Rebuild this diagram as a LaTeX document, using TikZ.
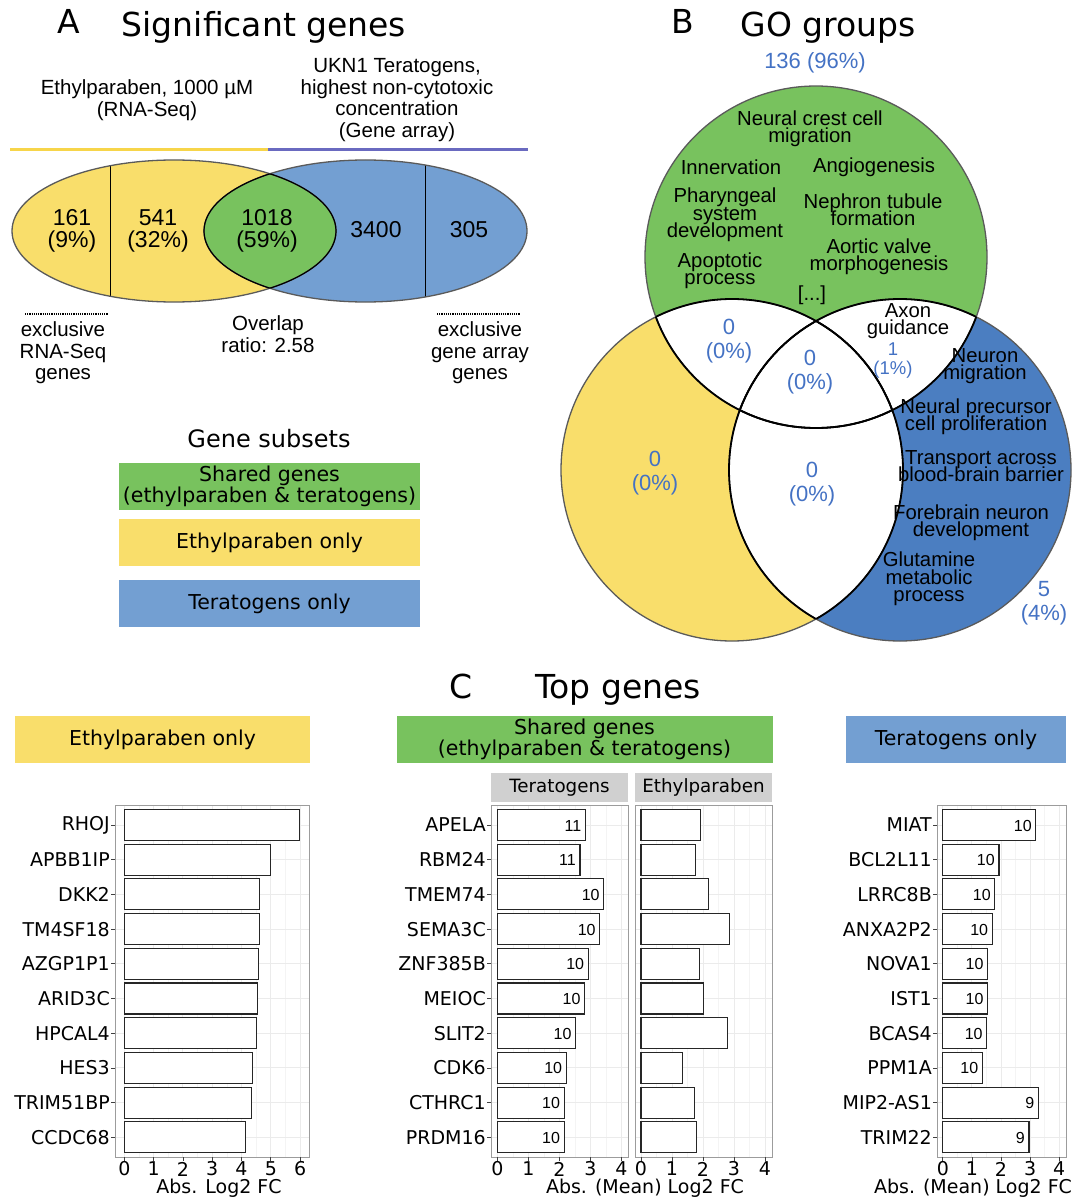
\documentclass[tikz,border=0pt]{standalone}
\usepackage{fontspec}
\setmainfont{Liberation Sans}
\newfontfamily\dvs{DejaVu Sans}
\setlength{\lineskiplimit}{-100pt}
\definecolor{cgreen}{HTML}{78C25E}
\definecolor{cyellow}{HTML}{F9DE6B}
\definecolor{cblue}{HTML}{739FD2}
\definecolor{cdblue}{HTML}{4B7EC1}
\definecolor{cnum}{HTML}{4472C4}
\definecolor{cyline}{HTML}{F7D54A}
\definecolor{cpline}{HTML}{6A6AC0}
\definecolor{cstrip}{HTML}{D0D0D0}
\definecolor{cgrid}{HTML}{EBEBEB}
\definecolor{cgridm}{HTML}{F4F4F4}
\definecolor{cframe}{HTML}{9C9C9C}
\definecolor{coutl}{HTML}{5A5A5A}
\tikzset{
 ttl/.style={font=\dvs\fontsize{33}{36}\selectfont, inner sep=0pt},
 lab/.style={font=\fontsize{20.5}{21.5}\selectfont, align=center, inner sep=0pt},
 num/.style={font=\fontsize{23}{21.5}\selectfont, align=center, inner sep=0pt},
 golab/.style={font=\fontsize{20.3}{17.3}\selectfont, align=center, inner sep=0pt},
 gonum/.style={font=\fontsize{22}{24}\selectfont, align=center, inner sep=0pt, text=cnum},
 gonums/.style={font=\fontsize{18.5}{19}\selectfont, align=center, inner sep=0pt, text=cnum},
 subttl/.style={font=\dvs\fontsize{24}{26}\selectfont, inner sep=0pt},
 subbox/.style={font=\dvs\fontsize{20.5}{21}\selectfont, align=center, inner sep=0pt, minimum width=301pt, minimum height=47pt},
 hdrbox/.style={font=\dvs\fontsize{20.5}{21}\selectfont, align=center, inner sep=0pt, minimum height=47pt},
 stripbox/.style={fill=cstrip, font=\dvs\fontsize{18.3}{20}\selectfont, inner sep=0pt, minimum height=29pt, minimum width=137pt},
 gene/.style={font=\dvs\fontsize{19}{20}\selectfont, anchor=east, inner sep=0pt},
 tick/.style={font=\dvs\fontsize{19}{20}\selectfont, inner sep=0pt},
 axt/.style={font=\dvs\fontsize{19}{20}\selectfont, inner sep=0pt},
 bar/.style={draw=black!85, fill=white, line width=1.1pt},
 barlab/.style={font=\fontsize{16}{16}\selectfont, anchor=east, inner sep=0pt},
 gridmaj/.style={draw=cgrid, line width=0.9pt},
 gridmin/.style={draw=cgridm, line width=0.5pt},
 tickl/.style={draw=black!75, line width=0.8pt},
 outl/.style={draw=coutl, line width=1.3pt},
 inl/.style={draw=black, line width=1.8pt},
 inla/.style={draw=black, line width=1.2pt},
}
\newcommand\mkgrid[5]{%
  \foreach \k in {1,...,#5}{\draw[gridmin] ({#3+(\k-0.5)*#4},805) -- ({#3+(\k-0.5)*#4},1157);}%
  \foreach \k in {0,...,#5}{\draw[gridmaj] ({#3+\k*#4},805) -- ({#3+\k*#4},1157);}%
  \foreach \i in {0,...,9}{\draw[gridmaj] (#1,{825+34.7*\i}) -- (#2,{825+34.7*\i});}%
}
\newcommand\mkframe[6]{%
  \draw[cframe, line width=1pt] (#1,805) rectangle (#2,1157);%
  \foreach \k in {0,...,#5}{\draw[tickl] ({#3+\k*#4},1157) -- ({#3+\k*#4},1161); \node[tick] (#6\k) at ({#3+\k*#4},1169) {\k};}%
}
\begin{document}
\begin{tikzpicture}[x=1pt,y=-1pt]
\useasboundingbox (0,0) rectangle (1074,1198);
\fill[white] (0,0) rectangle (1074,1198);

% ---------------- Panel A
\node[ttl, anchor=base] (tA) at (69,34) {A};
\node[ttl, anchor=base] (tAt) at (264,37) {Significant genes};
\node[lab] (ep) at (147,100) {Ethylparaben, 1000 µM\\(RNA-Seq)};
\node[lab] (ukn) at (397,100) {UKN1 Teratogens,\\highest non-cytotoxic\\concentration\\(Gene array)};
\coordinate (ya) at (10,150); \coordinate (ym) at (268,150); \coordinate (yb) at (528,150);
\draw[cyline, line width=3pt] (ya) -- (ym);
\draw[cpline, line width=3pt] (ym) -- (yb);

\fill[cyellow] (174,231) ellipse (162 and 71);
\fill[cblue] (365.5,231) ellipse (161.5 and 71);
\begin{scope} \clip (174,231) ellipse (162 and 71); \fill[cgreen] (365.5,231) ellipse (161.5 and 71); \end{scope}
\begin{scope} \clip (174,231) ellipse (162 and 71); \draw[black, line width=1pt] (110,150) -- (110,310); \end{scope}
\begin{scope} \clip (365.5,231) ellipse (161.5 and 71); \draw[black, line width=1pt] (425,150) -- (425,310); \end{scope}
\draw[outl] (174,231) ellipse (162 and 71);
\draw[outl] (365.5,231) ellipse (161.5 and 71);
\begin{scope} \clip (174,231) ellipse (162 and 71); \draw[inla] (365.5,231) ellipse (161.5 and 71); \end{scope}
\begin{scope} \clip (365.5,231) ellipse (161.5 and 71); \draw[inla] (174,231) ellipse (162 and 71); \end{scope}

\node[num] (n161) at (72,231) {161\\(9\%)};
\node[num] (n541) at (158,231) {541\\(32\%)};
\node[num] (n1018) at (267,231) {1018\\(59\%)};
\node[num] (n3400) at (376,230) {3400};
\node[num] (n305) at (469,230) {305};

\coordinate (d1a) at (25,314); \coordinate (d1b) at (108,314);
\coordinate (d2a) at (437,314); \coordinate (d2b) at (520,314);
\draw[line width=1.2pt, dash pattern=on 1.1pt off 1.1pt] (d1a) -- (d1b);
\draw[line width=1.2pt, dash pattern=on 1.1pt off 1.1pt] (d2a) -- (d2b);
\node[lab] (exl) at (63,353) {exclusive\\RNA-Seq\\genes};
\node[lab] (ovl) at (268,334) {Overlap\\ratio: 2.58};
\node[lab] (exr) at (480,353) {exclusive\\gene array\\genes};

\node[subttl] (gs) at (269,439) {Gene subsets};
\node[subbox, fill=cgreen] (lg1) at (269.5,486.5) {Shared genes\\(ethylparaben \& teratogens)};
\node[subbox, fill=cyellow] (lg2) at (269.5,542.5) {Ethylparaben only};
\node[subbox, fill=cblue] (lg3) at (269.5,603.5) {Teratogens only};

% ---------------- Panel B
\node[ttl, anchor=base] (tB) at (683,34) {B};
\node[ttl, anchor=base] (tBt) at (828,37) {GO groups};
\node[gonum] (n136) at (815,63) {136 (96\%)};

\fill[cgreen] (816,257) circle (171);
\fill[cyellow] (732,470) circle (171);
\fill[cdblue] (900,470) circle (171);
\begin{scope} \clip (816,257) circle (171); \fill[white] (732,470) circle (171); \fill[white] (900,470) circle (171); \end{scope}
\begin{scope} \clip (732,470) circle (171); \fill[white] (900,470) circle (171); \end{scope}
\draw[outl] (816,257) circle (171);
\draw[outl] (732,470) circle (171);
\draw[outl] (900,470) circle (171);
\begin{scope} \clip (816,257) circle (171); \draw[inl] (732,470) circle (171); \draw[inl] (900,470) circle (171); \end{scope}
\begin{scope} \clip (732,470) circle (171); \draw[inl] (816,257) circle (171); \draw[inl] (900,470) circle (171); \end{scope}
\begin{scope} \clip (900,470) circle (171); \draw[inl] (816,257) circle (171); \draw[inl] (732,470) circle (171); \end{scope}

\node[golab] (g1) at (810,129) {Neural crest cell\\migration};
\node[golab] (g2) at (731,167) {Innervation};
\node[golab] (g3) at (874,167) {Angiogenesis};
\node[golab] (g4) at (725,215) {Pharyngeal\\system\\development};
\node[golab] (g5) at (873,210) {Nephron tubule\\formation};
\node[golab] (g6) at (879,257) {Aortic valve\\morphogenesis};
\node[golab] (g7) at (720,271) {Apoptotic\\process};
\node[golab] (g8) at (812,295) {[...]};
\node[golab] (g9) at (908,321) {Axon\\guidance};
\node[golab] (g10) at (985,366) {Neuron\\migration};
\node[golab] (g11) at (976,417) {Neural precursor\\cell proliferation};
\node[golab] (g12) at (981,466) {Transport across\\blood-brain barrier};
\node[golab] (g13) at (971,523) {Forebrain neuron\\development};
\node[golab] (g14) at (929,579) {Glutamine\\metabolic\\process};

\node[gonum] (z1) at (729,341) {0\\(0\%)};
\node[gonum] (z2) at (810,372) {0\\(0\%)};
\node[gonums] (z3) at (893,361) {1\\(1\%)};
\node[gonum] (z4) at (655,473) {0\\(0\%)};
\node[gonum] (z5) at (812,484) {0\\(0\%)};
\node[gonum] (z6) at (1044,603) {5\\(4\%)};

% ---------------- Panel C
\node[ttl, anchor=base] (tC) at (461,698) {C};
\node[ttl, anchor=base] (tCt) at (618,698) {Top genes};
\node[hdrbox, fill=cyellow, minimum width=295pt] (hE) at (162.5,739.5) {Ethylparaben only};
\node[hdrbox, fill=cgreen, minimum width=376pt] (hS) at (584.5,739.5) {Shared genes\\(ethylparaben \& teratogens)};
\node[hdrbox, fill=cblue, minimum width=220pt] (hT) at (956,739.5) {Teratogens only};
\node[stripbox] (sT) at (559.5,787.5) {Teratogens};
\node[stripbox] (sE) at (703.5,787.5) {Ethylparaben};

% left plot
\mkgrid{115}{309}{124.3}{29.3}{6}
\foreach \g/\v [count=\i from 0] in {RHOJ/5.97,APBB1IP/5.0,DKK2/4.6,TM4SF18/4.6,AZGP1P1/4.58,ARID3C/4.55,HPCAL4/4.52,HES3/4.39,TRIM51BP/4.35,CCDC68/4.13}{
  \draw[bar] (124.3,{809.5+34.7*\i}) rectangle ({124.3+\v*29.3},{840.5+34.7*\i});
  \draw[tickl] (111,{825+34.7*\i}) -- (115,{825+34.7*\i});
  \node[gene] (gl\i) at (110,{825+34.7*\i}) {\g};
}
\mkframe{115}{309}{124.3}{29.3}{6}{xl}
\node[axt] (axl) at (219,1188) {Abs. Log2 FC};

% middle plots
\mkgrid{491}{628}{497.5}{31}{4}
\mkgrid{635}{772}{641}{31}{4}
\foreach \g/\v/\n [count=\i from 0] in {APELA/2.84/11,RBM24/2.66/11,TMEM74/3.43/10,SEMA3C/3.30/10,ZNF385B/2.93/10,MEIOC/2.81/10,SLIT2/2.52/10,CDK6/2.22/10,CTHRC1/2.15/10,PRDM16/2.15/10}{
  \draw[bar] (497.5,{809.5+34.7*\i}) rectangle ({497.5+\v*31},{840.5+34.7*\i});
  \node[barlab] (bt\i) at ({497.5+\v*31-4},{825.5+34.7*\i}) {\n};
  \draw[tickl] (487,{825+34.7*\i}) -- (491,{825+34.7*\i});
  \node[gene] (gm\i) at (486,{825+34.7*\i}) {\g};
}
\foreach \v [count=\i from 0] in {1.93,1.77,2.18,2.85,1.90,2.02,2.80,1.35,1.73,1.80}{
  \draw[bar] (641,{809.5+34.7*\i}) rectangle ({641+\v*31},{840.5+34.7*\i});
}
\mkframe{491}{628}{497.5}{31}{4}{xt}
\mkframe{635}{772}{641}{31}{4}{xe}
\node[axt] (axm) at (645,1188) {Abs. (Mean) Log2 FC};

% right plot
\mkgrid{937}{1066}{942.8}{29.1}{4}
\foreach \g/\v/\n [count=\i from 0] in {MIAT/3.2/10,BCL2L11/1.93/10,LRRC8B/1.79/10,ANXA2P2/1.70/10,NOVA1/1.54/10,IST1/1.54/10,BCAS4/1.51/10,PPM1A/1.36/10,MIP2-AS1/3.29/9,TRIM22/2.96/9}{
  \draw[bar] (942.8,{809.5+34.7*\i}) rectangle ({942.8+\v*29.1},{840.5+34.7*\i});
  \node[barlab] (br\i) at ({942.8+\v*29.1-4},{825.5+34.7*\i}) {\n};
  \draw[tickl] (933,{825+34.7*\i}) -- (937,{825+34.7*\i});
  \node[gene] (gr\i) at (932,{825+34.7*\i}) {\g};
}
\mkframe{937}{1066}{942.8}{29.1}{4}{xr}
\node[axt] (axr) at (973,1188) {Abs. (Mean) Log2 FC};
\end{tikzpicture}
\end{document}
